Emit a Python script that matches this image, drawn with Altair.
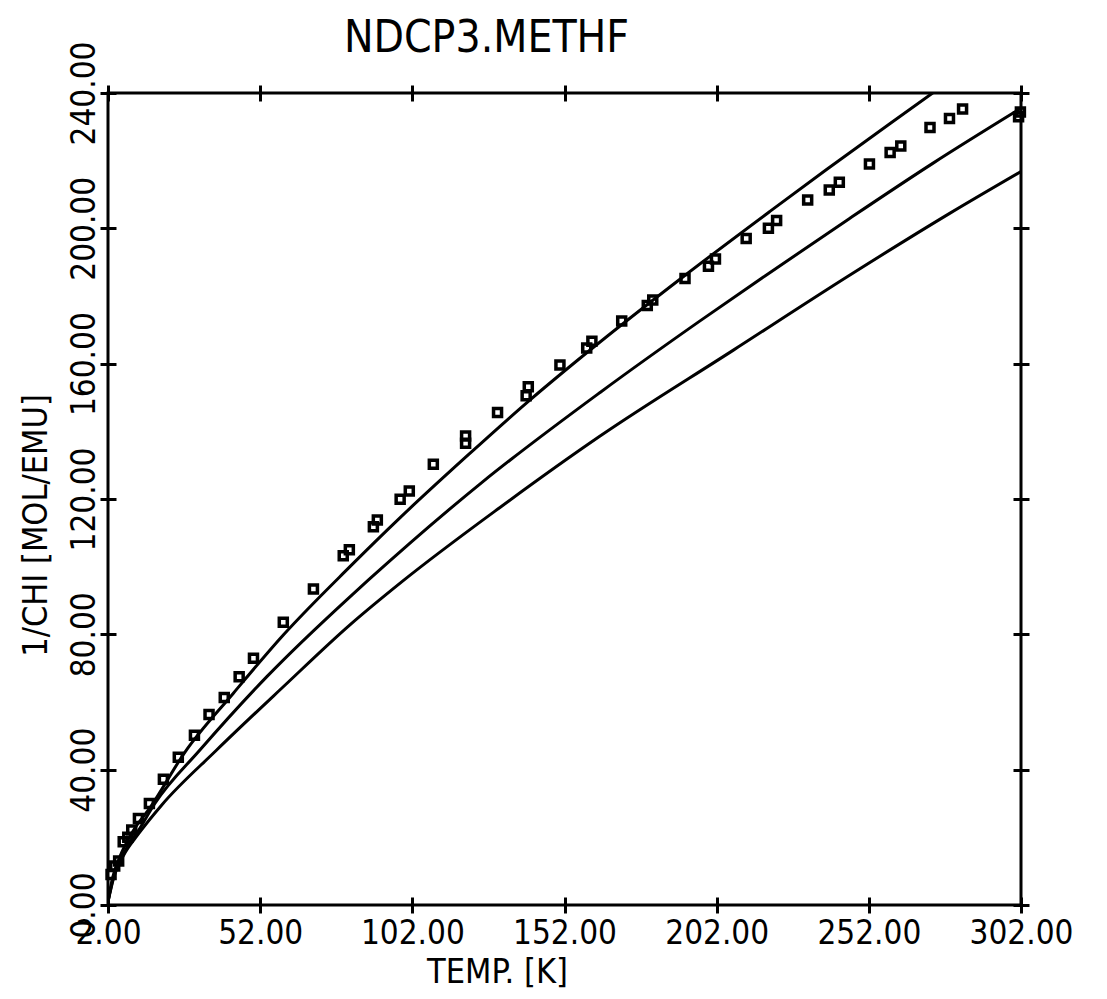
import altair as alt
import pandas as pd

# ---- data ----
x_ticks = [2, 52, 102, 152, 202, 252, 302]
y_ticks = [0, 40, 80, 120, 160, 200, 240]

obs_temp = [3.0, 4.2, 5.5, 7.0, 8.5, 9.8, 12.0, 15.6, 20.2, 25.1, 30.4, 35.2, 40.2,
            45.1, 49.8, 59.6, 69.5, 79.3, 81.3, 89.2, 90.5, 98.0, 101.0, 108.9,
            119.5, 119.5, 130.0, 139.4, 140.1, 150.5, 159.3, 161.0, 170.8, 179.2,
            181.0, 191.6, 199.3, 201.6, 211.7, 219.0, 221.7, 231.9, 239.0, 242.3,
            252.2, 259.0, 262.5, 272.1, 278.5, 282.8, 301.2, 301.8]
obs_chi = [9.0, 11.5, 13.0, 18.7, 20.0, 22.2, 25.6, 30.0, 37.2, 43.7, 50.2, 56.3, 61.3,
           67.5, 72.9, 83.6, 93.4, 103.2, 105.0, 111.8, 113.8, 119.9, 122.4, 130.3,
           136.5, 138.6, 145.6, 150.5, 153.2, 159.6, 164.6, 166.6, 172.6, 177.2,
           178.8, 185.2, 188.8, 190.9, 197.0, 200.0, 202.3, 208.4, 211.3, 213.6,
           219.0, 222.4, 224.3, 229.8, 232.5, 235.3, 233.0, 234.4]

fit1_temp = [2, 3.5, 6, 10, 16, 27.3, 43.2, 59.6, 81.5, 98, 119.7, 140.7, 159, 191,
             219.5, 238, 259, 275, 280]
fit1_chi = [1, 8, 14.5, 21.5, 29, 45.2, 62.6, 79.8, 100, 114.5, 132.5, 149.3, 163.0,
            185.7, 205, 217.3, 231, 241.3, 244.5]

fit2_temp = [2, 4, 7, 12, 17.4, 32.2, 54.2, 81.5, 87.5, 125, 163.7, 196.3, 218, 245.8,
             273, 302]
fit2_chi = [1, 9, 15, 22, 30, 45.8, 67.5, 91.1, 96.0, 125, 151.5, 172.5, 186, 203,
            219.2, 235.5]

fit3_temp = [2, 4, 7, 12, 19.6, 37.7, 59.6, 81.5, 98.5, 130.8, 163.7, 207.5, 245.8,
             278.7, 302]
fit3_chi = [1, 8.5, 14.5, 21, 29.5, 45.8, 64.5, 82.8, 95.5, 117.5, 138.6, 164, 186.2,
            204.5, 216.8]

FONT = "DejaVu Sans Condensed, Liberation Sans Narrow, DejaVu Sans"

obs = pd.DataFrame({"T": obs_temp, "chi": obs_chi})
curves = pd.concat([
    pd.DataFrame({"T": fit1_temp, "chi": fit1_chi, "series": "a"}),
    pd.DataFrame({"T": fit2_temp, "chi": fit2_chi, "series": "b"}),
    pd.DataFrame({"T": fit3_temp, "chi": fit3_chi, "series": "c"}),
])

xscale = alt.Scale(domain=[2, 302], nice=False, zero=False)
yscale = alt.Scale(domain=[0, 240], nice=False, zero=False)

common = dict(domain=False, grid=False, ticks=True, tickSize=16, tickWidth=3,
              tickColor="black", offset=-8)

x_bottom = alt.Axis(orient="bottom", values=x_ticks, format=".2f",
                    labelFont=FONT, labelFontSize=33, labelColor="black",
                    labelPadding=4, labelFlush=False, labelOverlap=False,
                    title="TEMP. [K]", titleFont=FONT, titleFontSize=34,
                    titleFontWeight="normal", titleColor="black",
                    titleX=389, titleY=75, titleAlign="center",
                    titleBaseline="middle", **common)
y_left = alt.Axis(orient="left", values=y_ticks, format=".2f",
                  labelFont=FONT, labelFontSize=33, labelColor="black",
                  labelAngle=270, labelAlign="center", labelBaseline="alphabetic",
                  labelPadding=6, labelFlush=False, labelOverlap=False,
                  title="1/CHI [MOL/EMU]", titleFont=FONT, titleFontSize=34,
                  titleFontWeight="normal", titleColor="black", titleAngle=270,
                  titleX=-80, titleY=432, titleAlign="center",
                  titleBaseline="middle", **common)
x_top = alt.Axis(orient="top", values=x_ticks, labels=False, title="", **common)
y_right = alt.Axis(orient="right", values=y_ticks, labels=False, title="", **common)

lines = alt.Chart(curves).mark_line(color="black", strokeWidth=3, clip=True,
                                    interpolate="monotone").encode(
    x=alt.X("T:Q", scale=xscale, axis=x_top),
    y=alt.Y("chi:Q", scale=yscale, axis=y_right),
    detail="series:N",
)

points = alt.Chart(obs).mark_point(shape="square", filled=False, color="black",
                                   strokeWidth=3.5, size=64, opacity=1).encode(
    x=alt.X("T:Q", scale=xscale, axis=x_bottom),
    y=alt.Y("chi:Q", scale=yscale, axis=y_left),
)

chart = alt.layer(lines, points).resolve_axis(
    x="independent", y="independent"
).properties(
    width=913, height=812,
    autosize=alt.AutoSizeParams(type="none"),
    padding={"left": 100, "top": 85, "right": 78, "bottom": 86},
    title=alt.TitleParams(text="NDCP3.METHF", font=FONT, fontSize=44,
                          fontWeight="normal", color="black", anchor="middle",
                          dx=-78, dy=42, offset=22),
).configure_view(stroke="black", strokeWidth=3)

chart.save("out.html", embed_options={"renderer": "svg", "actions": False})
